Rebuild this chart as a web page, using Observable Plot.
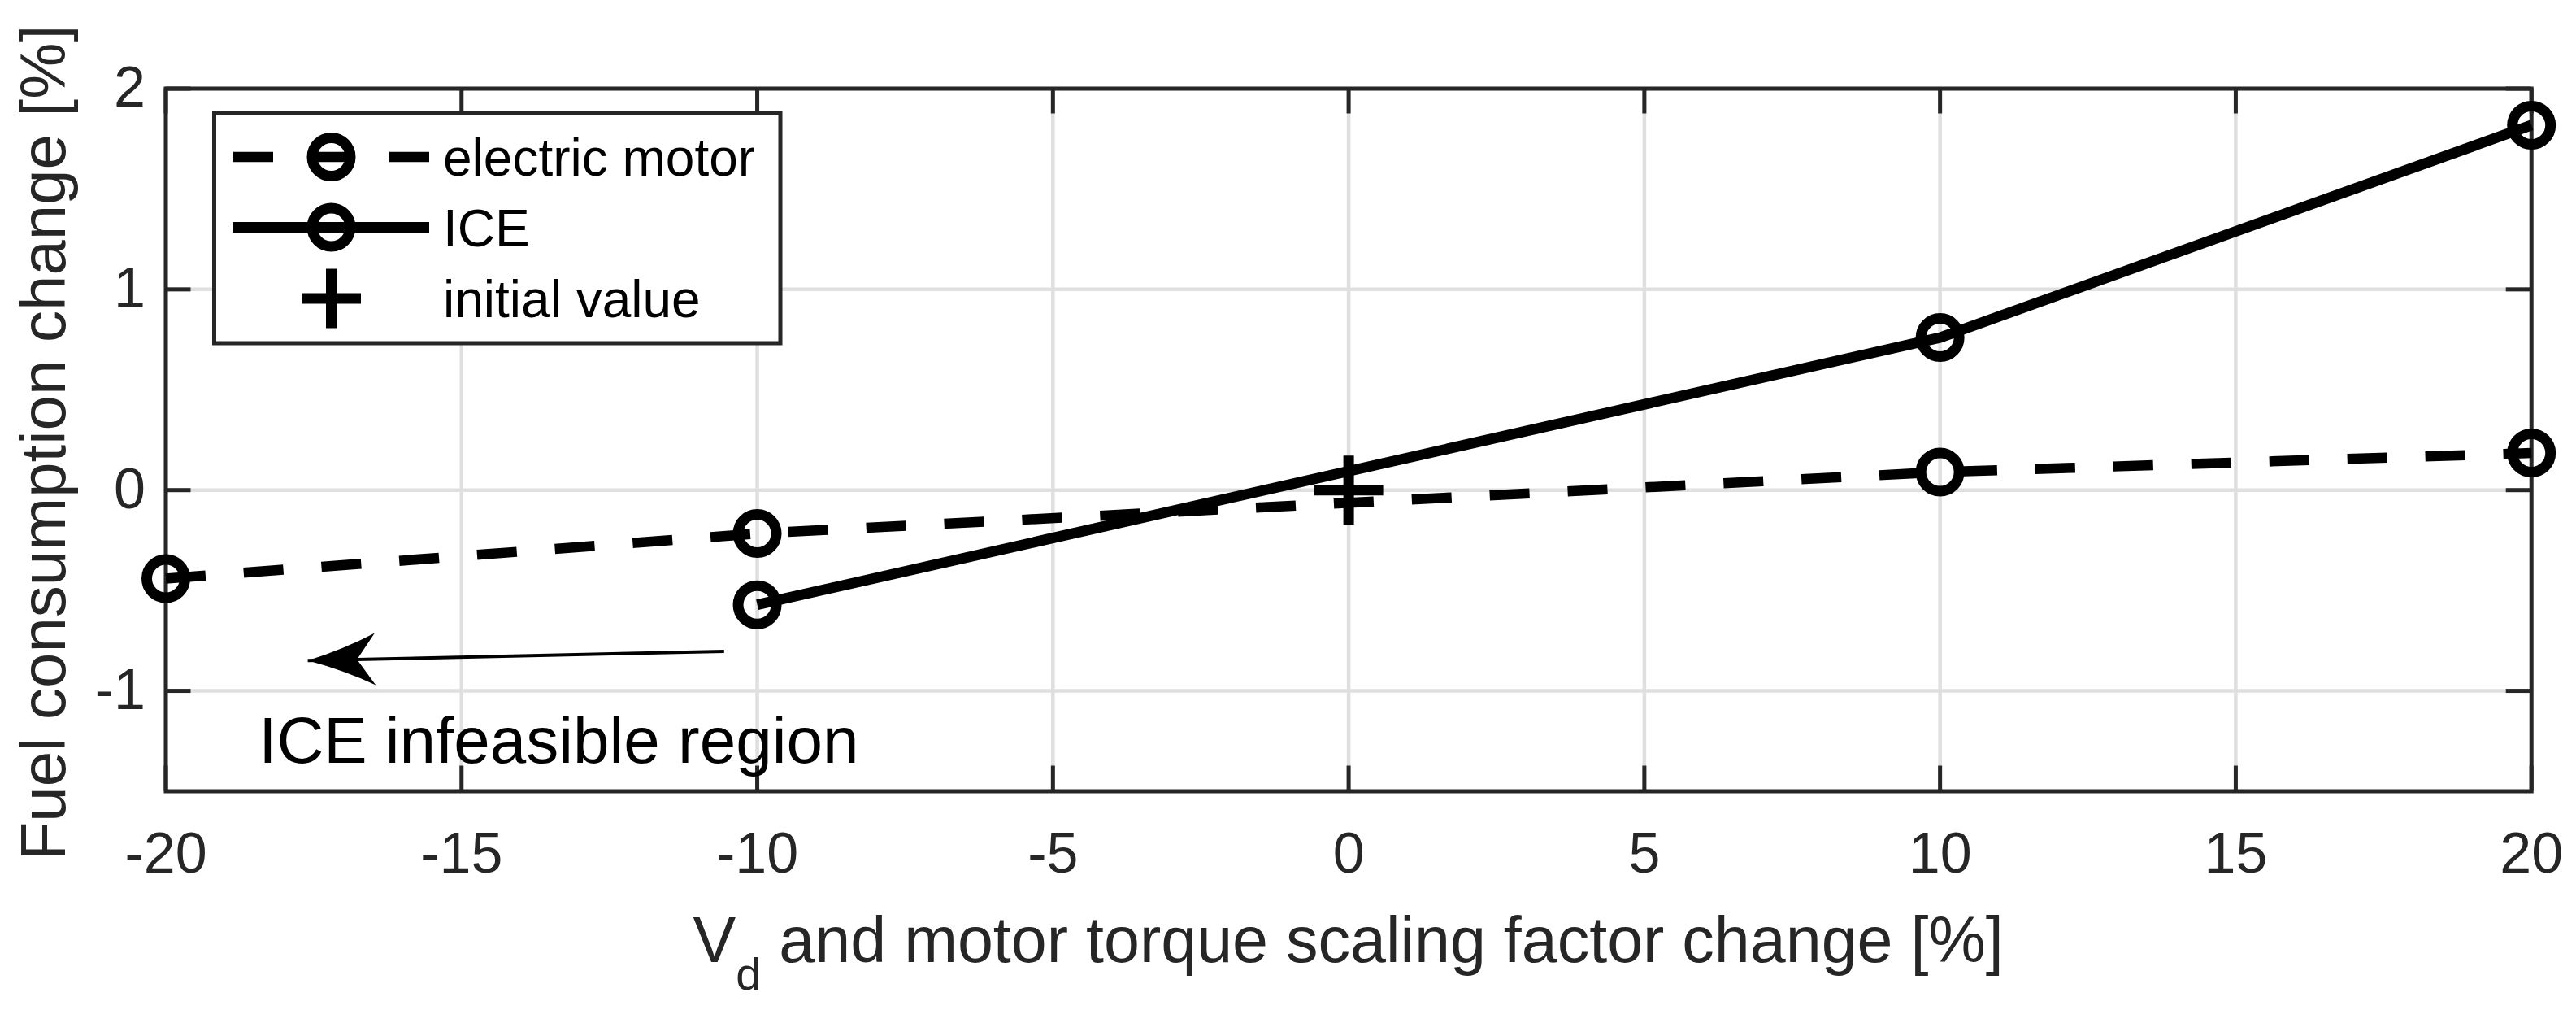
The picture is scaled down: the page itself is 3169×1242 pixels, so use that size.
<!DOCTYPE html>
<html><head><meta charset="utf-8">
<script src="https://cdn.jsdelivr.net/npm/d3@7"></script>
<script src="https://cdn.jsdelivr.net/npm/@observablehq/plot@0.6"></script>
<style>
html,body{margin:0;padding:0;background:#fff;}
#chart{position:relative;width:3169px;height:1242px;}
</style>
</head><body><div id="chart"></div>
<script>
// ---- data ----
const xElectric = [-20, -10, 10, 20];
const yElectric = [-0.441, -0.216, 0.09, 0.185];
const xICE = [-10, 10, 20];
const yICE = [-0.571, 0.76, 1.818];
const xInitial = [0];
const yInitial = [0];
const xTicks = [-20, -15, -10, -5, 0, 5, 10, 15, 20];
const xTickLabels = ["-20", "-15", "-10", "-5", "0", "5", "10", "15", "20"];
const yTicks = [-1, 0, 1, 2];
const yTickLabels = ["-1", "0", "1", "2"];
const arrowFrom = [-10.56, -0.803];
const arrowTo = [-17.6, -0.849];
const noteText = "ICE infeasible region";
const notePos = [-18.43, -1.357];
const legendLabels = ["electric motor", "ICE", "initial value"];
const xLabelParts = ["V", "d", " and motor torque scaling factor change [%]"];
const yLabel = "Fuel consumption change [%]";

// ---- tables ----
const elec = xElectric.map((x, i) => ({x, y: yElectric[i]}));
const ice = xICE.map((x, i) => ({x, y: yICE[i]}));
const initial = xInitial.map((x, i) => ({x, y: yInitial[i]}));
const arrow = [{x1: arrowFrom[0], y1: arrowFrom[1], x2: arrowTo[0], y2: arrowTo[1]}];
const note = [{x: notePos[0], y: notePos[1], text: noteText}];

// ---- layout ----
const W = 3169, H = 1242;
const mL = 203.5, mR = 55.3, mT = 108.5, mB = 269.5;
const plotW = W - mL - mR, plotH = H - mT - mB;
const axisColor = "#262626";
const tickLen = 31;

const plusSymbol = {
  draw(ctx, size) {
    const r = Math.sqrt(size / Math.PI);
    ctx.moveTo(-r, 0); ctx.lineTo(r, 0);
    ctx.moveTo(0, -r); ctx.lineTo(0, r);
  }
};
const headSymbol = {
  draw(ctx, size) {
    const L = Math.sqrt(size / Math.PI);
    const Wd = L * 0.386, N = L * 0.73;
    ctx.moveTo(0, 0);
    ctx.quadraticCurveTo(L * 0.55, -Wd * 0.42, L, -Wd);
    ctx.lineTo(N, 0);
    ctx.lineTo(L, Wd);
    ctx.quadraticCurveTo(L * 0.55, Wd * 0.42, 0, 0);
    ctx.closePath();
  }
};

function makePlot(rot) {
  return Plot.plot({
    width: W, height: H,
    marginLeft: mL, marginRight: mR, marginTop: mT, marginBottom: mB,
    x: {domain: [-20, 20]},
    y: {domain: [-1.5, 2]},
    style: {fontFamily: "'Liberation Sans', Arial, Helvetica, sans-serif", color: axisColor, background: "white", overflow: "visible"},
    marks: [
      Plot.gridX(xTicks, {stroke: "#dfdfdf", strokeOpacity: 1, strokeWidth: 4.5}),
      Plot.gridY(yTicks, {stroke: "#dfdfdf", strokeOpacity: 1, strokeWidth: 4.5}),
      Plot.frame({stroke: axisColor, strokeWidth: 5}),
      Plot.tickX(xTicks, {x: d => d, insetTop: plotH - tickLen, stroke: axisColor, strokeWidth: 5}),
      Plot.tickX(xTicks, {x: d => d, insetBottom: plotH - tickLen, stroke: axisColor, strokeWidth: 5}),
      Plot.tickY(yTicks, {y: d => d, insetRight: plotW - tickLen, stroke: axisColor, strokeWidth: 5}),
      Plot.tickY(yTicks, {y: d => d, insetLeft: plotW - tickLen, stroke: axisColor, strokeWidth: 5}),
      Plot.axisX(xTicks, {tickSize: 0, tickPadding: 50, fontSize: 70, label: null,
        tickFormat: d => xTickLabels[xTicks.indexOf(d)]}),
      Plot.axisY(yTicks, {tickSize: 0, tickPadding: 25, fontSize: 70, label: null,
        tickFormat: d => yTickLabels[yTicks.indexOf(d)]}),
      Plot.line(elec, {x: "x", y: "y", stroke: "black", strokeWidth: 12.5, strokeDasharray: "49,47", strokeLinecap: "butt", strokeLinejoin: "miter"}),
      Plot.line(ice, {x: "x", y: "y", stroke: "black", strokeWidth: 13, strokeLinecap: "butt"}),
      Plot.dot(elec, {x: "x", y: "y", r: 23.5, stroke: "black", strokeWidth: 13, fill: "none"}),
      Plot.dot(ice, {x: "x", y: "y", r: 23.5, stroke: "black", strokeWidth: 13, fill: "none"}),
      Plot.dot(initial, {x: "x", y: "y", symbol: plusSymbol, r: 42.5, stroke: "black", strokeWidth: 13, fill: "none", strokeLinecap: "butt"}),
      Plot.link(arrow, {x1: "x1", y1: "y1", x2: "x2", y2: "y2", stroke: "black", strokeWidth: 4}),
      Plot.dot(arrow, {x: "x2", y: "y2", symbol: headSymbol, r: 83, fill: "black", stroke: "none", rotate: rot}),
      Plot.text(note, {x: "x", y: "y", text: "text", textAnchor: "start", lineAnchor: "bottom", fontSize: 80, fill: "black"})
    ]
  });
}

const p0 = makePlot(0);
const sx = p0.scale("x"), sy = p0.scale("y");
const rot = Math.atan2(sy.apply(arrowFrom[1]) - sy.apply(arrowTo[1]), sx.apply(arrowFrom[0]) - sx.apply(arrowTo[0])) * 180 / Math.PI;
const plot = makePlot(rot);
document.getElementById("chart").append(plot);

const svg = d3.select(plot);

// y axis title
svg.append("text")
  .attr("transform", `translate(80,${mT + plotH / 2 + 4}) rotate(-90)`)
  .attr("text-anchor", "middle")
  .attr("font-size", 78)
  .attr("fill", axisColor)
  .text(yLabel);

// x axis title with subscript
const xt = svg.append("text")
  .attr("x", mL + plotW / 2)
  .attr("y", 1183)
  .attr("text-anchor", "middle")
  .attr("font-size", 79)
  .attr("fill", axisColor)
  .style("white-space", "pre");
xt.append("tspan").text(xLabelParts[0]);
xt.append("tspan").attr("font-size", 56).attr("dy", 34).text(xLabelParts[1]);
xt.append("tspan").attr("dy", -34).text(xLabelParts[2]);

// legend
const lg = svg.append("g").attr("text-anchor", "start");
lg.append("rect").attr("x", 263.5).attr("y", 138.5).attr("width", 696.5).attr("height", 283.5)
  .attr("fill", "white").attr("stroke", axisColor).attr("stroke-width", 5);
const rowY = [193, 279.5, 367];
const sx0 = 287, sx1 = 528, mx = 407.5;
// row 1: dashed with circle
lg.append("line").attr("x1", sx0).attr("x2", sx1).attr("y1", rowY[0]).attr("y2", rowY[0])
  .attr("stroke", "black").attr("stroke-width", 12.5).attr("stroke-dasharray", "49,47");
lg.append("circle").attr("cx", mx).attr("cy", rowY[0]).attr("r", 23.5)
  .attr("fill", "none").attr("stroke", "black").attr("stroke-width", 13);
// row 2: solid with circle
lg.append("line").attr("x1", sx0).attr("x2", sx1).attr("y1", rowY[1]).attr("y2", rowY[1])
  .attr("stroke", "black").attr("stroke-width", 13);
lg.append("circle").attr("cx", mx).attr("cy", rowY[1]).attr("r", 23.5)
  .attr("fill", "none").attr("stroke", "black").attr("stroke-width", 13);
// row 3: plus
lg.append("path").attr("d", `M${mx - 36.5},${rowY[2]}H${mx + 36.5}M${mx},${rowY[2] - 36.5}V${rowY[2] + 36.5}`)
  .attr("fill", "none").attr("stroke", "black").attr("stroke-width", 13);
legendLabels.forEach((t, i) => {
  lg.append("text").attr("x", 545).attr("y", rowY[i] + 23).attr("text-anchor", "start")
    .attr("font-size", 64).attr("fill", "black").text(t);
});
</script>
</body></html>
